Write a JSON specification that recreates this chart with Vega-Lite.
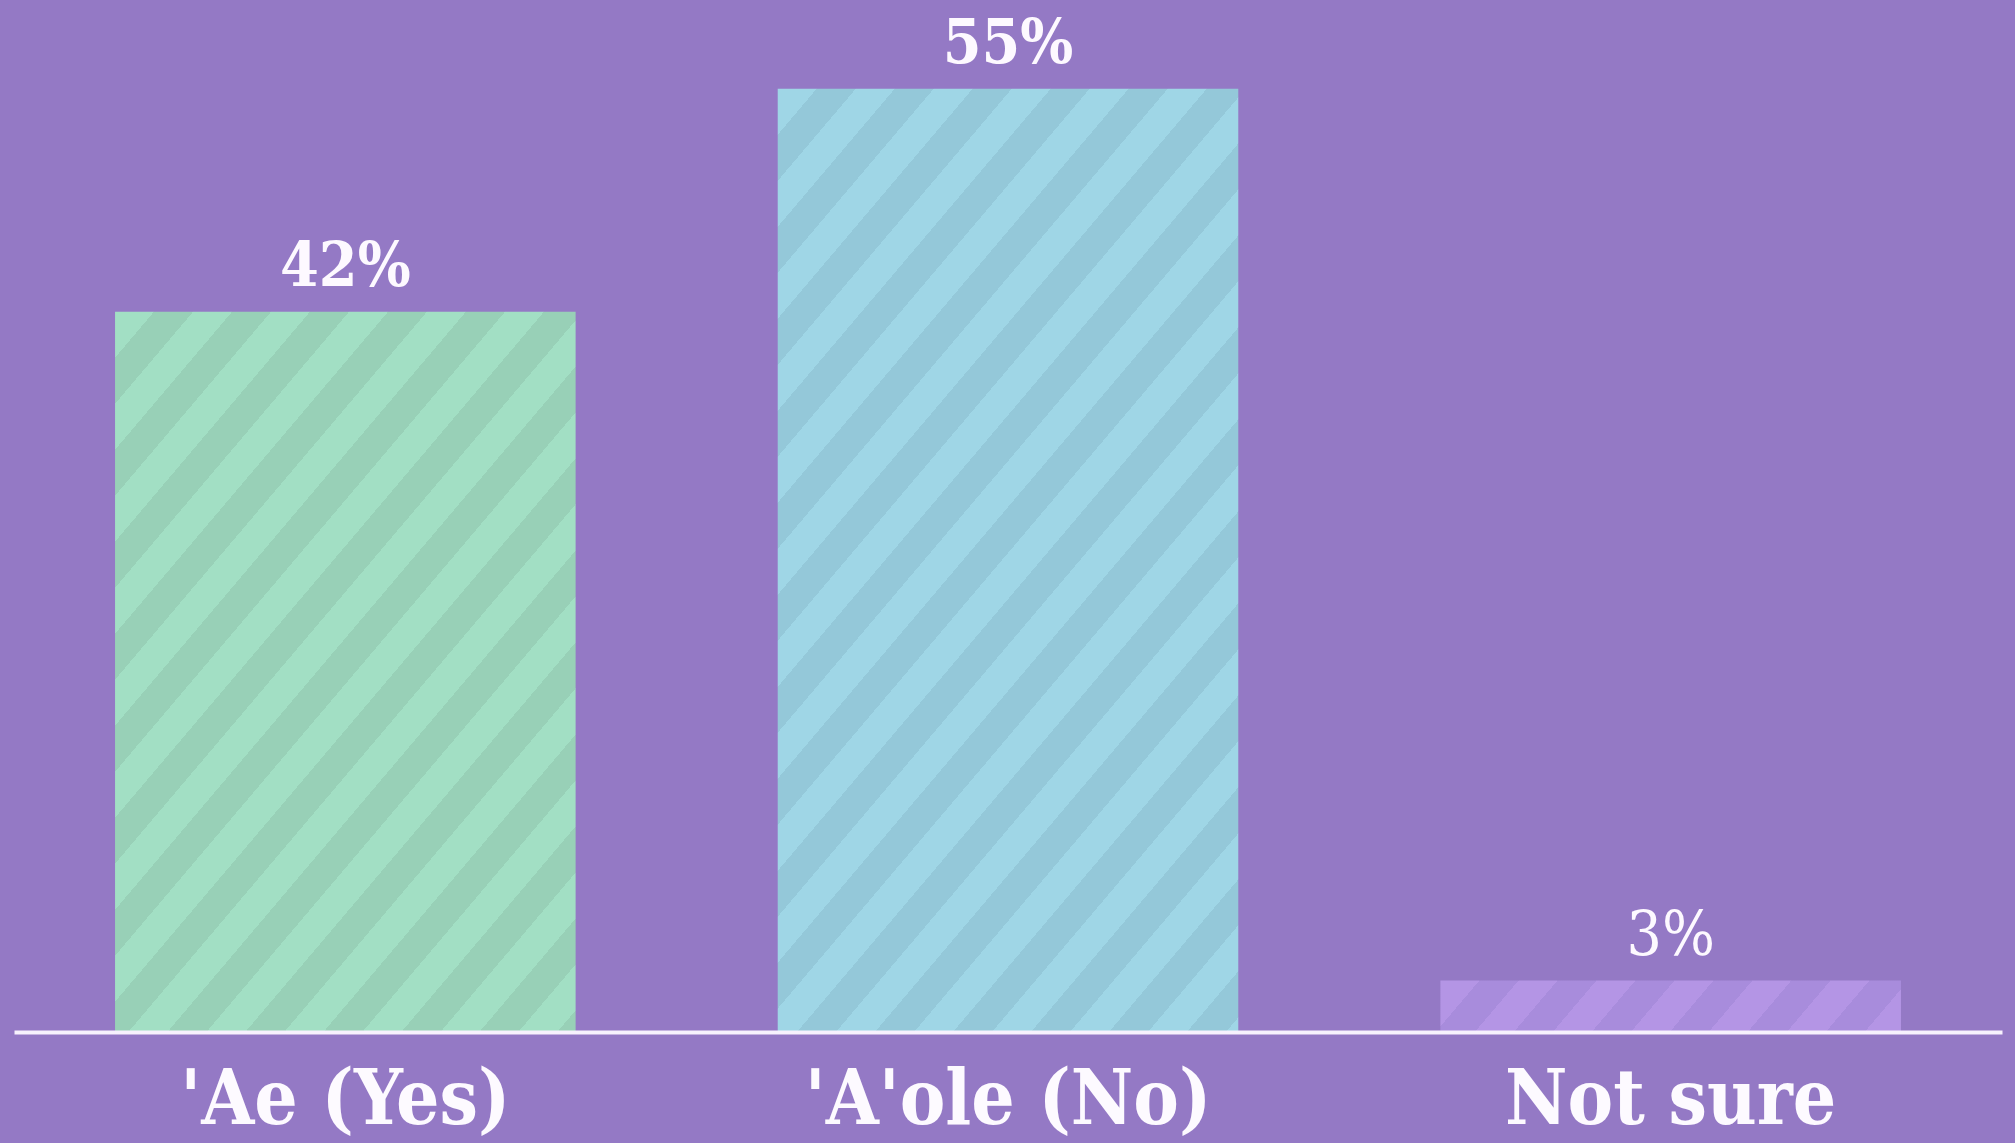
{
  "$schema": "https://vega.github.io/schema/vega-lite/v6.json",
  "width": 1988,
  "height": 1029,
  "autosize": {"type": "none"},
  "padding": {"left": 14, "top": 3, "right": 13, "bottom": 111},
  "background": "#9479c5",
  "config": {"view": {"stroke": null}},
  "data": {"values": [
    {"answer": "'Ae (Yes)", "share": 0.42},
    {"answer": "'A'ole (No)", "share": 0.55},
    {"answer": "Not sure", "share": 0.03}
  ]},
  "encoding": {
    "x": {
      "field": "answer", "type": "nominal", "sort": null,
      "scale": {"paddingInner": 0.305, "paddingOuter": 0.1525},
      "axis": {
        "title": null, "grid": false, "ticks": false, "tickSize": 0,
        "domain": true, "domainColor": "#f7f1fd", "domainWidth": 4, "zindex": 1,
        "labelAngle": 0, "labelPadding": 91, "labelBaseline": "alphabetic", "labelLimit": 0,
        "labelFont": "DejaVu Serif Condensed, DejaVu Serif", "labelFontWeight": "bold",
        "labelFontSize": 76, "labelColor": "#fdfaff"
      }
    },
    "y": {
      "field": "share", "type": "quantitative",
      "scale": {"domain": [0, 0.6], "nice": false},
      "axis": null
    }
  },
  "layer": [
    {
      "mark": {"type": "bar"},
      "encoding": {
        "color": {
          "condition": [
            {"test": "datum.share > 0.5", "value": {"gradient": "linear", "x1": 0, "y1": 0, "x2": 0.9279, "y2": 1.6112, "stops": [
              {"offset":0,"color":"#9fd6e6"},
              {"offset":0.0227,"color":"#9fd6e6"},{"offset":0.0227,"color":"#94c8d9"},
              {"offset":0.0455,"color":"#94c8d9"},{"offset":0.0455,"color":"#9fd6e6"},
              {"offset":0.0682,"color":"#9fd6e6"},{"offset":0.0682,"color":"#94c8d9"},
              {"offset":0.0909,"color":"#94c8d9"},{"offset":0.0909,"color":"#9fd6e6"},
              {"offset":0.1136,"color":"#9fd6e6"},{"offset":0.1136,"color":"#94c8d9"},
              {"offset":0.1364,"color":"#94c8d9"},{"offset":0.1364,"color":"#9fd6e6"},
              {"offset":0.1591,"color":"#9fd6e6"},{"offset":0.1591,"color":"#94c8d9"},
              {"offset":0.1818,"color":"#94c8d9"},{"offset":0.1818,"color":"#9fd6e6"},
              {"offset":0.2045,"color":"#9fd6e6"},{"offset":0.2045,"color":"#94c8d9"},
              {"offset":0.2273,"color":"#94c8d9"},{"offset":0.2273,"color":"#9fd6e6"},
              {"offset":0.25,"color":"#9fd6e6"},{"offset":0.25,"color":"#94c8d9"},
              {"offset":0.2727,"color":"#94c8d9"},{"offset":0.2727,"color":"#9fd6e6"},
              {"offset":0.2955,"color":"#9fd6e6"},{"offset":0.2955,"color":"#94c8d9"},
              {"offset":0.3182,"color":"#94c8d9"},{"offset":0.3182,"color":"#9fd6e6"},
              {"offset":0.3409,"color":"#9fd6e6"},{"offset":0.3409,"color":"#94c8d9"},
              {"offset":0.3636,"color":"#94c8d9"},{"offset":0.3636,"color":"#9fd6e6"},
              {"offset":0.3864,"color":"#9fd6e6"},{"offset":0.3864,"color":"#94c8d9"},
              {"offset":0.4091,"color":"#94c8d9"},{"offset":0.4091,"color":"#9fd6e6"},
              {"offset":0.4318,"color":"#9fd6e6"},{"offset":0.4318,"color":"#94c8d9"},
              {"offset":0.4545,"color":"#94c8d9"},{"offset":0.4545,"color":"#9fd6e6"},
              {"offset":0.4773,"color":"#9fd6e6"},{"offset":0.4773,"color":"#94c8d9"},
              {"offset":0.5,"color":"#94c8d9"},{"offset":0.5,"color":"#9fd6e6"},
              {"offset":0.5227,"color":"#9fd6e6"},{"offset":0.5227,"color":"#94c8d9"},
              {"offset":0.5455,"color":"#94c8d9"},{"offset":0.5455,"color":"#9fd6e6"},
              {"offset":0.5682,"color":"#9fd6e6"},{"offset":0.5682,"color":"#94c8d9"},
              {"offset":0.5909,"color":"#94c8d9"},{"offset":0.5909,"color":"#9fd6e6"},
              {"offset":0.6136,"color":"#9fd6e6"},{"offset":0.6136,"color":"#94c8d9"},
              {"offset":0.6364,"color":"#94c8d9"},{"offset":0.6364,"color":"#9fd6e6"},
              {"offset":0.6591,"color":"#9fd6e6"},{"offset":0.6591,"color":"#94c8d9"},
              {"offset":0.6818,"color":"#94c8d9"},{"offset":0.6818,"color":"#9fd6e6"},
              {"offset":0.7045,"color":"#9fd6e6"},{"offset":0.7045,"color":"#94c8d9"},
              {"offset":0.7273,"color":"#94c8d9"},{"offset":0.7273,"color":"#9fd6e6"},
              {"offset":0.75,"color":"#9fd6e6"},{"offset":0.75,"color":"#94c8d9"},
              {"offset":0.7727,"color":"#94c8d9"},{"offset":0.7727,"color":"#9fd6e6"},
              {"offset":0.7955,"color":"#9fd6e6"},{"offset":0.7955,"color":"#94c8d9"},
              {"offset":0.8182,"color":"#94c8d9"},{"offset":0.8182,"color":"#9fd6e6"},
              {"offset":0.8409,"color":"#9fd6e6"},{"offset":0.8409,"color":"#94c8d9"},
              {"offset":1,"color":"#94c8d9"}
            ]}},
            {"test": "datum.share > 0.1", "value": {"gradient": "linear", "x1": 0, "y1": 0, "x2": 1.3509, "y2": 1.7911, "stops": [
              {"offset":0,"color":"#a2dfc4"},
              {"offset":0.0227,"color":"#a2dfc4"},{"offset":0.0227,"color":"#98d0b7"},
              {"offset":0.0455,"color":"#98d0b7"},{"offset":0.0455,"color":"#a2dfc4"},
              {"offset":0.0682,"color":"#a2dfc4"},{"offset":0.0682,"color":"#98d0b7"},
              {"offset":0.0909,"color":"#98d0b7"},{"offset":0.0909,"color":"#a2dfc4"},
              {"offset":0.1136,"color":"#a2dfc4"},{"offset":0.1136,"color":"#98d0b7"},
              {"offset":0.1364,"color":"#98d0b7"},{"offset":0.1364,"color":"#a2dfc4"},
              {"offset":0.1591,"color":"#a2dfc4"},{"offset":0.1591,"color":"#98d0b7"},
              {"offset":0.1818,"color":"#98d0b7"},{"offset":0.1818,"color":"#a2dfc4"},
              {"offset":0.2045,"color":"#a2dfc4"},{"offset":0.2045,"color":"#98d0b7"},
              {"offset":0.2273,"color":"#98d0b7"},{"offset":0.2273,"color":"#a2dfc4"},
              {"offset":0.25,"color":"#a2dfc4"},{"offset":0.25,"color":"#98d0b7"},
              {"offset":0.2727,"color":"#98d0b7"},{"offset":0.2727,"color":"#a2dfc4"},
              {"offset":0.2955,"color":"#a2dfc4"},{"offset":0.2955,"color":"#98d0b7"},
              {"offset":0.3182,"color":"#98d0b7"},{"offset":0.3182,"color":"#a2dfc4"},
              {"offset":0.3409,"color":"#a2dfc4"},{"offset":0.3409,"color":"#98d0b7"},
              {"offset":0.3636,"color":"#98d0b7"},{"offset":0.3636,"color":"#a2dfc4"},
              {"offset":0.3864,"color":"#a2dfc4"},{"offset":0.3864,"color":"#98d0b7"},
              {"offset":0.4091,"color":"#98d0b7"},{"offset":0.4091,"color":"#a2dfc4"},
              {"offset":0.4318,"color":"#a2dfc4"},{"offset":0.4318,"color":"#98d0b7"},
              {"offset":0.4545,"color":"#98d0b7"},{"offset":0.4545,"color":"#a2dfc4"},
              {"offset":0.4773,"color":"#a2dfc4"},{"offset":0.4773,"color":"#98d0b7"},
              {"offset":0.5,"color":"#98d0b7"},{"offset":0.5,"color":"#a2dfc4"},
              {"offset":0.5227,"color":"#a2dfc4"},{"offset":0.5227,"color":"#98d0b7"},
              {"offset":0.5455,"color":"#98d0b7"},{"offset":0.5455,"color":"#a2dfc4"},
              {"offset":0.5682,"color":"#a2dfc4"},{"offset":0.5682,"color":"#98d0b7"},
              {"offset":0.5909,"color":"#98d0b7"},{"offset":0.5909,"color":"#a2dfc4"},
              {"offset":0.6136,"color":"#a2dfc4"},{"offset":0.6136,"color":"#98d0b7"},
              {"offset":0.6364,"color":"#98d0b7"},{"offset":0.6364,"color":"#a2dfc4"},
              {"offset":0.6591,"color":"#a2dfc4"},{"offset":0.6591,"color":"#98d0b7"},
              {"offset":0.6818,"color":"#98d0b7"},{"offset":0.6818,"color":"#a2dfc4"},
              {"offset":0.7045,"color":"#a2dfc4"},{"offset":0.7045,"color":"#98d0b7"},
              {"offset":1,"color":"#98d0b7"}
            ]}}
          ],
          "value": {"gradient": "linear", "x1": 0, "y1": 0, "x2": 3.6925, "y2": 0.35, "stops": [
            {"offset":0,"color":"#b495e5"},
            {"offset":0.0227,"color":"#b495e5"},{"offset":0.0227,"color":"#a88cdc"},
            {"offset":0.0455,"color":"#a88cdc"},{"offset":0.0455,"color":"#b495e5"},
            {"offset":0.0682,"color":"#b495e5"},{"offset":0.0682,"color":"#a88cdc"},
            {"offset":0.0909,"color":"#a88cdc"},{"offset":0.0909,"color":"#b495e5"},
            {"offset":0.1136,"color":"#b495e5"},{"offset":0.1136,"color":"#a88cdc"},
            {"offset":0.1364,"color":"#a88cdc"},{"offset":0.1364,"color":"#b495e5"},
            {"offset":0.1591,"color":"#b495e5"},{"offset":0.1591,"color":"#a88cdc"},
            {"offset":0.1818,"color":"#a88cdc"},{"offset":0.1818,"color":"#b495e5"},
            {"offset":0.2045,"color":"#b495e5"},{"offset":0.2045,"color":"#a88cdc"},
            {"offset":0.2273,"color":"#a88cdc"},{"offset":0.2273,"color":"#b495e5"},
            {"offset":0.25,"color":"#b495e5"},{"offset":0.25,"color":"#a88cdc"},
            {"offset":0.2727,"color":"#a88cdc"},{"offset":0.2727,"color":"#b495e5"},
            {"offset":0.2955,"color":"#b495e5"},{"offset":0.2955,"color":"#a88cdc"},
            {"offset":0.3182,"color":"#a88cdc"},{"offset":0.3182,"color":"#b495e5"},
            {"offset":0.3409,"color":"#b495e5"},{"offset":0.3409,"color":"#a88cdc"},
            {"offset":1,"color":"#a88cdc"}
          ]}
        }
      }
    },
    {
      "transform": [{"filter": "datum.share > 0.1"}],
      "mark": {"type": "text", "baseline": "alphabetic", "dy": -26, "font": "DejaVu Serif Condensed, DejaVu Serif", "fontWeight": "bold", "fontSize": 62, "color": "#fdf9ff"},
      "encoding": {"text": {"field": "share", "type": "quantitative", "format": ".0%"}}
    },
    {
      "transform": [{"filter": "datum.share <= 0.1"}],
      "mark": {"type": "text", "baseline": "alphabetic", "dy": -26, "font": "DejaVu Serif Condensed, DejaVu Serif", "fontWeight": "normal", "fontSize": 62, "color": "#fdf9ff"},
      "encoding": {"text": {"field": "share", "type": "quantitative", "format": ".0%"}}
    }
  ]
}
